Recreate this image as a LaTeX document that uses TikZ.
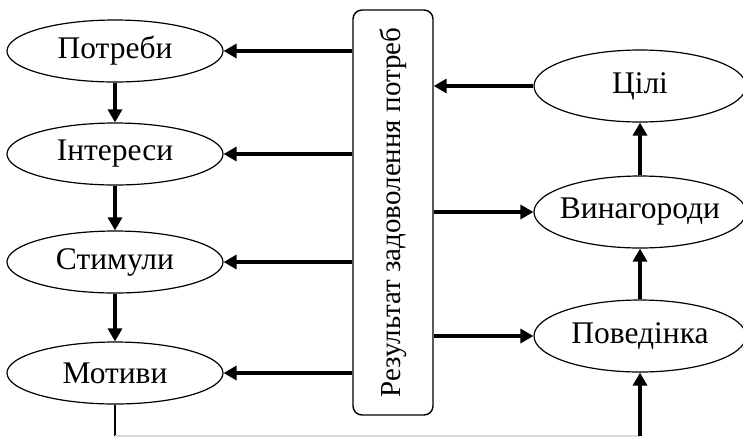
\documentclass[tikz,border=0pt]{standalone}
\usepackage{fontspec}
\setmainfont{Liberation Serif}
\usetikzlibrary{arrows.meta, shapes.geometric}

\begin{document}
\begin{tikzpicture}[x=1pt,y=-1pt,
  font=\fontsize{31.5}{36}\selectfont,
  leftoval/.style={draw,ellipse,line width=1.2pt,inner xsep=-30pt,inner ysep=0pt,minimum width=216pt,minimum height=62pt},
  rightoval/.style={draw,ellipse,line width=1.2pt,inner xsep=-30pt,inner ysep=0pt,minimum width=212pt,minimum height=72pt},
  resbox/.style={draw,rounded corners=9pt,line width=1.4pt,inner sep=0pt,minimum width=405pt,minimum height=80pt,
    font=\fontsize{29}{34}\selectfont},
  arr/.style={line width=3.2pt,-{Triangle[length=13pt,width=14pt]}}]
% Fix the margins
\useasboundingbox (0,0) rectangle (743,437);
% Chain on the left
\node [leftoval] (potreby) at (115,51) {Потреби};
\node [leftoval] (interesy) at (115,154) {Інтереси};
\node [leftoval] (stymuly) at (115,262) {Стимули};
\node [leftoval] (motyvy) at (115,373) {Мотиви};
% Chain on the right
\node [rightoval] (tsili) at (640,86) {Цілі};
\node [rightoval] (vynahorody) at (640,212) {Винагороди};
\node [rightoval] (povedinka) at (640,336) {Поведінка};
% Box in the middle, text runs upwards
\node [resbox,rotate=90] (result) at (393,212.5) {Результат задоволення потреб};
% Arrows down the left chain
\draw [arr] (potreby) -- (interesy);
\draw [arr] (interesy) -- (stymuly);
\draw [arr] (stymuly) -- (motyvy);
% Arrows from the box to the left chain (result.north is its left side)
\draw [arr] (result.north |- potreby) -- (potreby);
\draw [arr] (result.north |- interesy) -- (interesy);
\draw [arr] (result.north |- stymuly) -- (stymuly);
\draw [arr] (result.north |- motyvy) -- (motyvy);
% Right side (result.south is its right side)
\draw [arr] (tsili) -- (result.south |- tsili);
\draw [arr] (result.south |- vynahorody) -- (vynahorody);
\draw [arr] (result.south |- povedinka) -- (povedinka);
\draw [arr] (vynahorody) -- (tsili);
\draw [arr] (povedinka) -- (vynahorody);
% Feedback line along the bottom
\coordinate (bl) at (motyvy.south |- 0,436);
\coordinate (br) at (povedinka.south |- 0,436);
\draw [line width=1.2pt] (motyvy.south) -- (bl);
\draw [line width=1.2pt,black!15] (bl) -- (br);
\draw [arr] (br) -- (povedinka);
\end{tikzpicture}
\end{document}
